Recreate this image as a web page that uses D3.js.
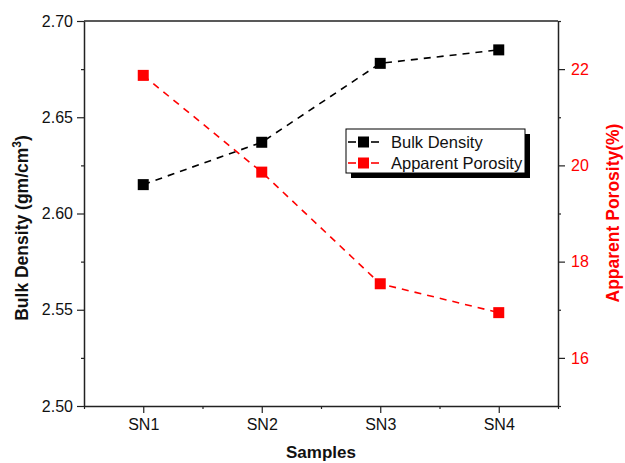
<!DOCTYPE html>
<html><head><meta charset="utf-8">
<script src="https://cdn.jsdelivr.net/npm/d3@7"></script>
<style>body{margin:0;background:#fff}text{font-family:Arial,"Liberation Sans",sans-serif}</style>
</head><body><svg id="c" width="625" height="463"></svg>
<script>
const categories = ["SN1","SN2","SN3","SN4"];
const bulkDensity = [2.615, 2.637, 2.678, 2.685];
const apparentPorosity = [21.87, 19.86, 17.54, 16.94];
const leftTicks = [2.50, 2.55, 2.60, 2.65, 2.70];
const rightTicks = [16, 18, 20, 22];
const seriesNames = ["Bulk Density", "Apparent Porosity"];
const seriesColors = ["#000000", "#ff0000"];

const svg = d3.select("#c");
const L = 84, R = 558, T = 21, B = 406;
const x = d3.scaleLinear().domain([0.5, 4.5]).range([L, R]);
const yL = d3.scaleLinear().domain([2.50, 2.70]).range([B, T]);
const yR = d3.scaleLinear().domain([15, 23]).range([B, T]);
const axisColor = "#222";

// frame top
svg.append("line").attr("x1", L).attr("x2", R).attr("y1", T).attr("y2", T)
  .attr("stroke", axisColor).attr("stroke-width", 1.5);

// bottom axis
const gx = svg.append("g").attr("transform", `translate(0,${B})`);
gx.call(d3.axisBottom(x).tickValues([1,2,3,4]).tickFormat(d => categories[d-1]).tickSize(7).tickSizeOuter(0).tickPadding(6));
gx.append("g").call(d3.axisBottom(x).tickValues([0.5,1.5,2.5,3.5,4.5]).tickFormat("").tickSize(3).tickSizeOuter(0))
  .select(".domain").remove();

// left axis
const gl = svg.append("g").attr("transform", `translate(${L},0)`);
gl.call(d3.axisLeft(yL).tickValues(leftTicks).tickFormat(d3.format(".2f")).tickSize(7).tickSizeOuter(0).tickPadding(4));
gl.append("g").call(d3.axisLeft(yL).tickValues([2.525,2.575,2.625,2.675]).tickFormat("").tickSize(3).tickSizeOuter(0))
  .select(".domain").remove();

// right axis
const gr = svg.append("g").attr("transform", `translate(${R},0)`);
gr.call(d3.axisRight(yR).tickValues(rightTicks).tickSize(7).tickSizeOuter(0).tickPadding(6));
gr.append("g").call(d3.axisRight(yR).tickValues([15,17,19,21,23]).tickFormat("").tickSize(3).tickSizeOuter(0))
  .select(".domain").remove();

svg.selectAll(".domain").attr("stroke", axisColor).attr("stroke-width", 1.5);
svg.selectAll(".tick line").attr("stroke", axisColor).attr("stroke-width", 1.2);
svg.selectAll(".tick text").attr("font-size", 16).attr("fill", "#111").attr("font-family", "Arial, 'Liberation Sans', sans-serif");
gr.selectAll(".tick text").attr("fill", "#ff0000");

// titles
svg.append("text").attr("x", (L+R)/2).attr("y", 458).attr("text-anchor", "middle")
  .attr("font-size", 17).attr("font-weight", "bold").attr("fill", "#111").text("Samples");
const lt = svg.append("text").attr("transform", `translate(28,${228}) rotate(-90)`).attr("text-anchor", "middle")
  .attr("font-size", 17.5).attr("font-weight", "bold").attr("fill", "#111");
lt.append("tspan").text("Bulk Density (gm/cm");
lt.append("tspan").attr("font-size", 12).attr("dy", -7).text("3");
lt.append("tspan").attr("dy", 7).text(")");
svg.append("text").attr("transform", `translate(619,${213}) rotate(-90)`).attr("text-anchor", "middle")
  .attr("font-size", 17.5).attr("font-weight", "bold").attr("fill", "#ff0000").text("Apparent Porosity(%)");

// series
const series = [
  {vals: bulkDensity, y: yL, color: seriesColors[0]},
  {vals: apparentPorosity, y: yR, color: seriesColors[1]}
];
const ms = 11;
series.forEach(s => {
  const line = d3.line().x((d,i) => x(i+1)).y(d => s.y(d));
  svg.append("path").datum(s.vals).attr("d", line).attr("fill", "none")
    .attr("stroke", s.color).attr("stroke-width", 1.6).attr("stroke-dasharray", "7,6");
  svg.selectAll(null).data(s.vals).enter().append("rect")
    .attr("x", (d,i) => x(i+1) - ms/2).attr("y", d => s.y(d) - ms/2)
    .attr("width", ms).attr("height", ms).attr("fill", s.color);
});

// legend
const lg = svg.append("g");
const lx = 346, ly = 129, lw = 179, lh = 44;
lg.append("rect").attr("x", lx+5).attr("y", ly+5).attr("width", lw).attr("height", lh).attr("fill", "#000");
lg.append("rect").attr("x", lx).attr("y", ly).attr("width", lw).attr("height", lh).attr("fill", "#fff")
  .attr("stroke", "#000").attr("stroke-width", 1);
seriesNames.forEach((n, i) => {
  const yy = ly + 13 + i*21;
  lg.append("line").attr("x1", lx+2).attr("x2", lx+10).attr("y1", yy).attr("y2", yy).attr("stroke", seriesColors[i]).attr("stroke-width", 1.6);
  lg.append("line").attr("x1", lx+25).attr("x2", lx+33).attr("y1", yy).attr("y2", yy).attr("stroke", seriesColors[i]).attr("stroke-width", 1.6);
  lg.append("rect").attr("x", lx+12).attr("y", yy-5.5).attr("width", 11).attr("height", 11).attr("fill", seriesColors[i]);
  lg.append("text").attr("x", lx+45).attr("y", yy+6).attr("font-size", 16.5).attr("fill", "#111").text(n);
});
</script></body></html>
